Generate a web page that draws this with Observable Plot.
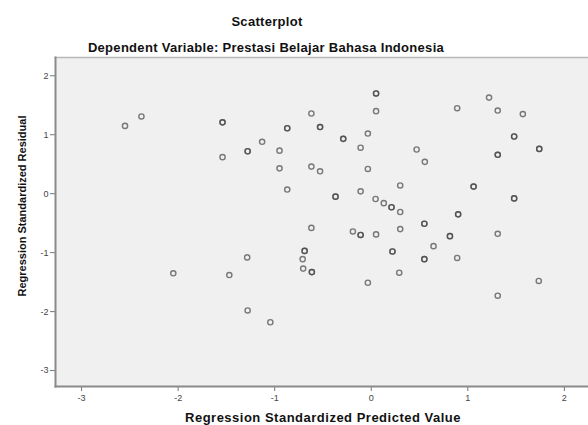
<!DOCTYPE html>
<html><head><meta charset="utf-8">
<script src="https://cdn.jsdelivr.net/npm/d3@7"></script>
<script src="https://cdn.jsdelivr.net/npm/@observablehq/plot@0.6"></script>
<style>
body{margin:0;background:#fff;font-family:"Liberation Sans",Arial,sans-serif;}
#wrap{position:relative;width:588px;height:425px;overflow:hidden;background:#fff;}
.t{position:absolute;font-weight:bold;color:#111;white-space:nowrap;transform:translateX(-50%);line-height:1;}
</style></head><body><div id="wrap">
<div class="t" style="left:267px;top:15px;font-size:13px;letter-spacing:0.3px">Scatterplot</div>
<div class="t" style="left:266px;top:41px;font-size:13px;letter-spacing:0.3px">Dependent Variable: Prestasi Belajar Bahasa Indonesia</div>
<div id="chart" style="position:absolute;left:0;top:52px"></div>
<div class="t" style="left:323px;top:411px;font-size:13px;letter-spacing:0.5px">Regression Standardized Predicted Value</div>
<div class="t" style="left:22px;top:206px;font-size:11px;transform:translate(-50%,-50%) rotate(-90deg)">Regression Standardized Residual</div>
</div>
<script>
// Regression standardized predicted values (x) and residuals (y); repeated pairs = overlapping cases
const predicted = [
 -2.55,-2.38,-1.54,-1.54,-1.54,-1.28,-1.28,-1.13,-0.95,-0.95,-0.87,-0.87,-0.87,
 -0.62,-0.53,-0.53,-0.62,-0.53,-0.62,-0.29,-0.29,-0.37,-0.37,-0.11,-0.035,0.05,0.05,
 0.05,-0.035,-0.11,0.045,0.13,0.21,0.21,0.30,0.30,-0.19,-0.11,-0.11,0.05,0.30,
 1.22,0.89,1.31,1.57,1.48,1.48,1.74,1.74,1.31,1.31,0.47,0.555,1.06,1.06,1.48,1.48,
 0.55,0.55,0.90,0.90,0.815,0.815,1.31,-2.05,-1.47,0.22,0.22,0.29,-1.285,-0.69,-0.69,
 -0.71,-0.705,-0.615,-0.615,-0.035,-1.28,-1.045,0.645,0.55,0.55,0.89,1.735,1.31
];
const residual = [
 1.15,1.31,1.21,1.21,0.62,0.72,0.72,0.88,0.73,0.43,1.11,1.11,0.07,
 1.36,1.13,1.13,0.46,0.38,-0.58,0.93,0.93,-0.05,-0.05,0.78,1.02,1.70,1.70,
 1.40,0.42,0.04,-0.09,-0.16,-0.23,-0.23,0.14,-0.31,-0.64,-0.70,-0.70,-0.69,-0.60,
 1.63,1.45,1.41,1.35,0.97,0.97,0.76,0.76,0.66,0.66,0.75,0.54,0.12,0.12,-0.08,-0.08,
 -0.51,-0.51,-0.35,-0.35,-0.72,-0.72,-0.68,-1.35,-1.38,-0.98,-0.98,-1.34,-1.08,-0.97,-0.97,
 -1.11,-1.27,-1.33,-1.33,-1.51,-1.98,-2.18,-0.89,-1.11,-1.11,-1.09,-1.48,-1.73
];
const xTicks = [-3,-2,-1,0,1,2];
const yTicks = [-3,-2,-1,0,1,2];

const data = predicted.map((x, i) => ({x, y: residual[i]}));

const chart = Plot.plot({
  width: 588, height: 373,
  marginTop: 5, marginLeft: 55, marginRight: 0, marginBottom: 39,
  style: {fontFamily: "'Liberation Sans', Arial, sans-serif", fontSize: "9px", color: "#444", background: "transparent"},
  x: {domain: [-3.27, 2.25]},
  y: {domain: [-3.27, 2.31]},
  marks: [
    Plot.frame({fill: "#f0f0f0", stroke: null}),
    Plot.frame({anchor: "top", stroke: "#b8b8b8", strokeWidth: 1.5}),
    Plot.dot(data, {x: "x", y: "y", r: 2.6, fill: "none", stroke: "#444", strokeOpacity: 0.7, strokeWidth: 1.4}),
    Plot.axisX({ticks: xTicks, tickFormat: d => String(d), tickSize: 5, tickPadding: 3, stroke: "#777", label: null}),
    Plot.axisY({ticks: yTicks, tickFormat: d => String(d), tickSize: 5, tickPadding: 2, stroke: "#777", label: null}),
    Plot.frame({anchor: "left", stroke: "#8a8a8a", strokeWidth: 2}),
    Plot.frame({anchor: "bottom", stroke: "#8a8a8a", strokeWidth: 2})
  ]
});
document.getElementById("chart").appendChild(chart);
</script>
</body></html>
